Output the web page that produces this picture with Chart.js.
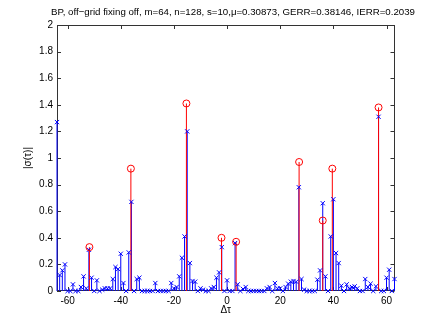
<!DOCTYPE html>
<html>
<head>
<meta charset="utf-8">
<script src="https://cdn.jsdelivr.net/npm/chart.js@4"></script>
<style>
  body { margin: 0; background: #fff; }
  canvas { display: block; }
</style>
</head>
<body>
<canvas id="myChart" width="436" height="327"></canvas>
<script>
// estimacion (azul): una por punto de la rejilla, k = -64 .. 63
var posEst = [];
for (var k = -64; k <= 63; k++) posEst.push(k);
var valEst = [
  1.27, 0.12, 0.155, 0.20, 0, 0, 0.05, 0, 0, 0.03,          // -64 .. -55
  0.11, 0.02, 0.31, 0.10, 0, 0.08, 0, 0.01, 0.02, 0.02,      // -54 .. -45
  0.02, 0.09, 0.18, 0.165, 0.28, 0.06, 0, 0.29, 0.67, 0,     // -44 .. -35
  0.09, 0.10, 0, 0, 0, 0, 0, 0.06, 0, 0,                     // -34 .. -25
  0, 0, 0, 0.06, 0.02, 0.03, 0.11, 0.25, 0.41, 1.20,         // -24 .. -15
  0.21, 0.075, 0.07, 0, 0.02, 0.01, 0, 0, 0.02, 0.03,        // -14 .. -5
  0.10, 0.14, 0.33, 0, 0.08, 0, 0, 0.36, 0.05, 0,            // -4 .. 5
  0.015, 0.03, 0, 0, 0, 0, 0, 0, 0, 0.02,                    // 6 .. 15
  0.03, 0, 0.06, 0.02, 0.02, 0, 0.03, 0.055, 0.07, 0.075,    // 16 .. 25
  0.07, 0.78, 0.09, 0.01, 0, 0, 0, 0, 0.085, 0.155,          // 26 .. 35
  0.66, 0.11, 0, 0.41, 0.69, 0.285, 0.21, 0.04, 0, 0.05,     // 36 .. 45
  0.02, 0.03, 0.035, 0.02, 0, 0, 0.09, 0.03, 0.055, 0,       // 46 .. 55
  0.035, 1.31, 0, 0, 0.10, 0.16, 0, 0.09                     // 56 .. 63
];
// señal real (rojo), fuera de la rejilla
var posReal = [-51.8, -36.2, -15.3, -2.1, 3.4, 27.1, 36.0, 39.6, 57.0];
var valReal = [0.33, 0.92, 1.41, 0.40, 0.37, 0.97, 0.53, 0.92, 1.38];

var xTicks = [-60, -40, -20, 0, 20, 40, 60];
var yTicks = [0, 0.2, 0.4, 0.6, 0.8, 1, 1.2, 1.4, 1.6, 1.8, 2];
var titulo = 'BP, off\u2212grid fixing off, m=64, n=128, s=10,\u03bc=0.30873, GERR=0.38146, IERR=0.2039';

var fuente = 'Liberation Sans, Arial, Helvetica, sans-serif';

function tallos(pos, val) {
  var d = [];
  for (var i = 0; i < pos.length; i++) {
    d.push({x: pos[i], y: 0});
    d.push({x: pos[i], y: val[i]});
    d.push({x: pos[i], y: null});
  }
  return d;
}
function puntos(pos, val) {
  return pos.map(function (p, i) { return {x: p, y: val[i]}; });
}

// caja estilo matlab con marcas hacia dentro + titulo (debajo de los datos)
var cajaPlugin = {
  id: 'caja',
  beforeDatasetsDraw: function (chart) {
    var c = chart.ctx, a = chart.chartArea;
    var sx = chart.scales.x, sy = chart.scales.y;
    c.save();
    c.strokeStyle = '#333';
    c.lineWidth = 1;
    c.strokeRect(Math.round(a.left) + 0.5, Math.round(a.top) + 0.5,
                 Math.round(a.right - a.left) - 1, Math.round(a.bottom - a.top) - 1);
    c.beginPath();
    xTicks.forEach(function (v) {
      var px = Math.round(sx.getPixelForValue(v)) + 0.5;
      c.moveTo(px, a.bottom); c.lineTo(px, a.bottom - 4);
      c.moveTo(px, a.top); c.lineTo(px, a.top + 4);
    });
    yTicks.forEach(function (v) {
      var py = Math.round(sy.getPixelForValue(v)) + 0.5;
      c.moveTo(a.left, py); c.lineTo(a.left + 4, py);
      c.moveTo(a.right, py); c.lineTo(a.right - 4, py);
    });
    c.stroke();
    c.fillStyle = '#000';
    c.font = '9.7px ' + fuente;
    c.textAlign = 'center';
    c.textBaseline = 'middle';
    c.fillText(titulo, 233, 12);
    c.restore();
  }
};

var ctx = document.getElementById('myChart').getContext('2d');
var myChart = new Chart(ctx, {
  type: 'scatter',
  data: {
    datasets: [
      {
        label: 'real',
        data: puntos(posReal, valReal),
        borderColor: '#ff0000',
        backgroundColor: 'rgba(0,0,0,0)',
        pointStyle: 'circle',
        pointRadius: 3.5,
        borderWidth: 1,
        clip: false,
        order: 0
      },
      {
        label: 'est',
        data: puntos(posEst, valEst),
        borderColor: '#0000ff',
        backgroundColor: '#0000ff',
        pointStyle: 'crossRot',
        pointRadius: 3,
        borderWidth: 1,
        clip: false,
        order: 1
      },
      {
        label: 'tallo real',
        data: tallos(posReal, valReal),
        showLine: true,
        spanGaps: false,
        borderColor: '#ff0000',
        borderWidth: 1,
        pointRadius: 0,
        clip: false,
        order: 2
      },
      {
        label: 'tallo est',
        data: tallos(posEst, valEst),
        showLine: true,
        spanGaps: false,
        borderColor: '#0000ff',
        borderWidth: 1,
        pointRadius: 0,
        clip: false,
        order: 3
      }
    ]
  },
  options: {
    responsive: false,
    animation: false,
    events: [],
    layout: { padding: { top: 25, right: 41.5, left: 0, bottom: 0 } },
    plugins: {
      legend: { display: false },
      tooltip: { enabled: false },
      title: { display: false }
    },
    scales: {
      x: {
        type: 'linear',
        min: -64,
        max: 63,
        afterBuildTicks: function (s) { s.ticks = xTicks.map(function (v) { return {value: v}; }); },
        afterFit: function (s) { s.height = 36; },
        grid: { display: false, drawTicks: false },
        border: { display: false },
        ticks: { color: '#000', padding: 4, font: { family: fuente, size: 10 } },
        title: { display: true, text: '\u0394\u03c4', color: '#000', padding: { top: 0, bottom: 11 }, font: { family: fuente, size: 10 } }
      },
      y: {
        min: 0,
        max: 2,
        afterBuildTicks: function (s) { s.ticks = yTicks.map(function (v) { return {value: v}; }); },
        afterFit: function (s) { s.width = 57; },
        grid: { display: false, drawTicks: false },
        border: { display: false },
        ticks: {
          color: '#000', padding: 4, font: { family: fuente, size: 10 },
          callback: function (v) { return String(Math.round(v * 10) / 10); }
        },
        title: { display: true, text: '|\u03c3(\u03c4)|', color: '#000', padding: { top: 22, bottom: 0 }, font: { family: fuente, size: 10 } }
      }
    }
  },
  plugins: [cajaPlugin]
});
</script>
</body>
</html>
